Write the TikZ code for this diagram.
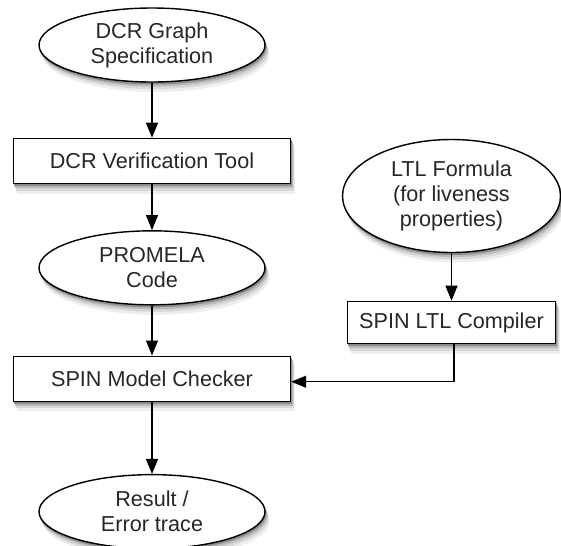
\documentclass[tikz,border=0pt]{standalone}
\usepackage{fontspec}
\setmainfont{Liberation Sans}
\usetikzlibrary{arrows.meta,positioning,shapes.geometric,backgrounds}
\definecolor{shadeA}{RGB}{238,238,238}
\definecolor{shadeB}{RGB}{215,215,215}
\definecolor{shadeC}{RGB}{185,185,185}
\definecolor{shadeD}{RGB}{140,140,140}
\tikzset{
  blob/.style={ellipse, draw=black, line width=0.8pt, fill=white, minimum width=4.52cm, minimum height=1.48cm, inner sep=0pt, align=center, text=black!85, font=\fontsize{12.3}{14.2}\selectfont},
  tool/.style={rectangle, draw=black, line width=0.8pt, fill=white, minimum width=5.54cm, minimum height=0.9cm, align=center, text=black!85, font=\fontsize{12.3}{14.2}\selectfont},
  flow/.style={-{Triangle[length=3mm, width=2.4mm]}, line width=0.6pt, draw=black}
}
\begin{document}
\begin{tikzpicture}[node distance=1cm]
  \useasboundingbox (0,0) rectangle (11.22,-10.9);
  \node[blob] (spec) at (3.04,-0.9) {DCR Graph\\Specification};
  \node[tool, below=1.1cm of spec] (verif) {DCR Verification Tool};
  \node[blob, below=0.92cm of verif] (promela) {PROMELA\\Code};
  \node[tool, below=1.0cm of promela] (checker) {SPIN Model Checker};
  \node[blob, below=1.44cm of checker] (result) {Result /\\Error trace};
  \node[blob, minimum width=4.36cm, minimum height=2.26cm] (ltl) at (9.03,-3.92) {LTL Formula\\(for liveness\\properties)};
  \node[tool, minimum width=4.16cm, minimum height=0.84cm, below=0.95cm of ltl] (compiler) {SPIN LTL Compiler};

  \draw[flow] (spec) -- (verif);
  \draw[flow] (verif) -- (promela);
  \draw[flow] (promela) -- (checker);
  \draw[flow] (checker) -- (result);
  \draw[flow] (ltl) -- (compiler);
  \draw[flow] ([xshift=0.05cm]compiler.south) |- ([yshift=-0.06cm]checker.east);

  % soft shadows
  \begin{scope}[on background layer]
    \foreach \n in {verif,checker,compiler}
      \foreach \dx/\dy/\shd in {0.08/-0.19/shadeA, 0.06/-0.13/shadeB, 0.04/-0.08/shadeC, 0.02/-0.04/shadeD}
        \fill[\shd] ([shift={(\dx,\dy)}]\n.south west) rectangle ([shift={(\dx,\dy)}]\n.north east);
    \foreach \n/\rx/\ry in {spec/2.27/0.75, promela/2.27/0.75, result/2.27/0.75, ltl/2.19/1.14}
      \foreach \dx/\dy/\shd in {0.08/-0.19/shadeA, 0.06/-0.13/shadeB, 0.04/-0.08/shadeC, 0.02/-0.04/shadeD}
        \fill[\shd] ([shift={(\dx,\dy)}]\n.center) ellipse [x radius=\rx, y radius=\ry];
  \end{scope}
\end{tikzpicture}
\end{document}
